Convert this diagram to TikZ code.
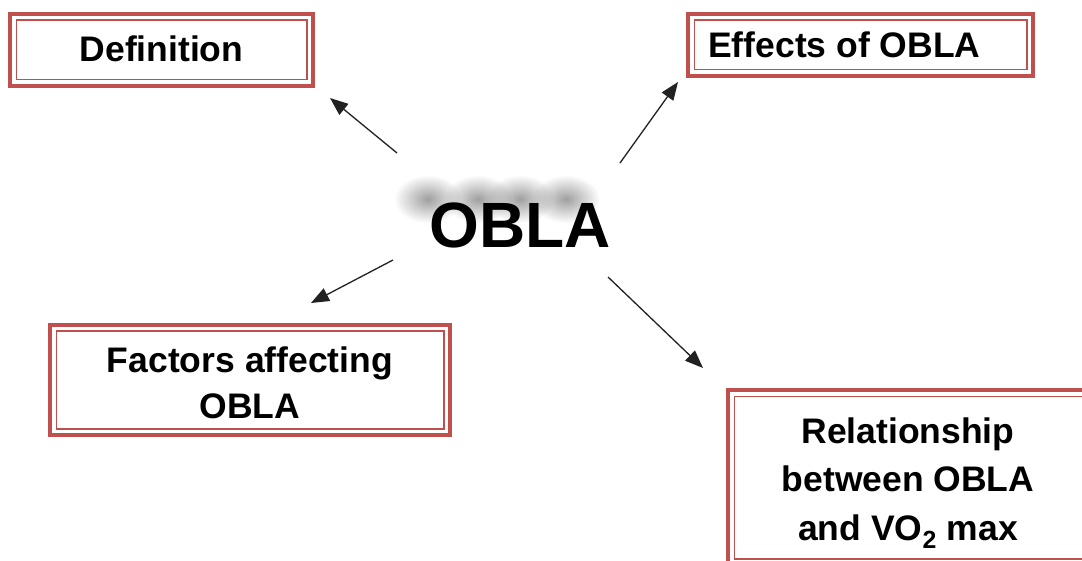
\documentclass[tikz,border=0pt]{standalone}
\usepackage{fontspec}
\setmainfont{Liberation Sans}
\usetikzlibrary{arrows.meta,fadings}
\definecolor{boxred}{HTML}{C0504D}
\definecolor{arrowc}{HTML}{222222}
\tikzfading[name=fuzz, inner color=transparent!25, outer color=transparent!100]
\begin{document}
\begin{tikzpicture}[x=1pt,y=-1pt,
  obox/.style={draw=boxred, line width=4.3pt, inner sep=0pt, fill=white,
    path picture={\draw[boxred, line width=1.8pt]
      ([shift={(6.4pt,6.4pt)}]path picture bounding box.south west) rectangle
      ([shift={(-6.4pt,-6.4pt)}]path picture bounding box.north east);}},
  lbl/.style={font=\fontsize{35.5}{47}\selectfont\bfseries, inner sep=0pt, align=center},
  big/.style={font=\fontsize{64}{70}\selectfont\bfseries, inner sep=0pt},
  blob/.style={fill=black!50, path fading=fuzz},
  arr/.style={draw=arrowc, line width=1.3pt, -{Triangle[length=18pt,width=14pt]}}
]
\clip (0,0) rectangle (1082,561);
\fill[white] (0,0) rectangle (1082,561);

% boxes
\node[obox, minimum width=303pt, minimum height=72pt] (def) at (161.5,50) {};
\node[obox, minimum width=345pt, minimum height=62pt] (eff) at (860.5,45) {};
\node[obox, minimum width=400pt, minimum height=110pt] (fac) at (250,380) {};
\node[obox, minimum width=372pt, minimum height=175pt] (rel) at (914,477.5) {};

% box texts
\node[lbl, anchor=base] (deft) at (161.5,61.5) {Definition};
\node[lbl, anchor=base west] (efft) at (708,58) {Effects of OBLA};
\node[lbl, anchor=base, font=\fontsize{35.5}{46}\selectfont\bfseries] (fact) at (250,418) {Factors affecting\\OBLA};
\node[lbl, anchor=base, font=\fontsize{35.5}{48.5}\selectfont\bfseries] (relt) at (908,540) {Relationship\\between OBLA\\and VO\textsubscript{2} max};

% blurred shadow behind the centre word
\foreach \cx in {428,478,520,566}
  \fill[blob] (\cx,199) ellipse (34pt and 24pt);
\node[big, anchor=base] (obla) at (520,248) {OBLA};

% arrows
\coordinate (a1s) at (397,153); \coordinate (a1e) at (330,98);
\coordinate (a2s) at (620,163); \coordinate (a2e) at (678,82);
\coordinate (a3s) at (393,260); \coordinate (a3e) at (311,303);
\coordinate (a4s) at (608,277); \coordinate (a4e) at (703,368);
\draw[arr] (a1s) -- (a1e);
\draw[arr] (a2s) -- (a2e);
\draw[arr] (a3s) -- (a3e);
\draw[arr] (a4s) -- (a4e);
\end{tikzpicture}
\end{document}
